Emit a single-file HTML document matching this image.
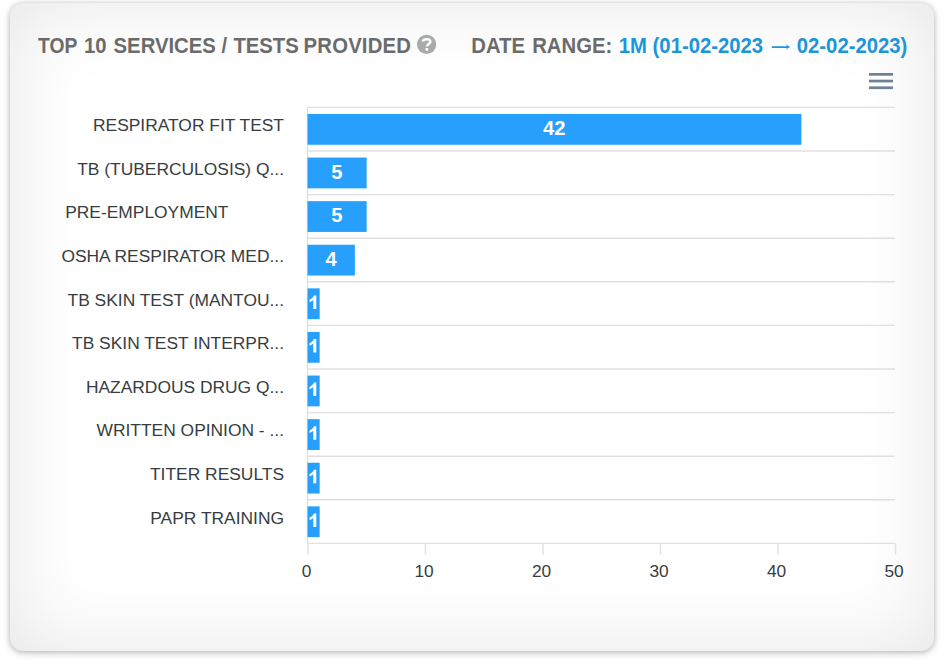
<!DOCTYPE html>
<html>
<head>
<meta charset="utf-8">
<title>Top 10 Services</title>
<style>
html,body{margin:0;padding:0;}
body{width:945px;height:659px;background:#fefefe;font-family:"Liberation Sans",sans-serif;overflow:hidden;position:relative;}
.card{position:absolute;left:10px;top:3px;width:923.5px;height:648px;border-radius:13px;
 background:#ffffff;
 box-shadow:inset 0 0 80px rgba(0,0,0,0.10), 0 2px 7px rgba(0,0,0,0.22), 0 0 4px rgba(0,0,0,0.13);}
.t{position:absolute;white-space:nowrap;font-weight:bold;font-size:20.3px;line-height:24px;color:#6b6b6b;transform:scaleY(1.075);transform-origin:0 19.2px;}
#t1{left:38.3px;top:33.5px;}
#t1x{left:83.9px;top:33.5px;}
#t1y{left:113.6px;top:33.5px;}
#t1b{left:233.4px;top:33.5px;}
#t1c{left:303.6px;top:33.5px;letter-spacing:0.2px;}
#t2{left:471.3px;top:33.5px;}
#t2b{left:532.2px;top:33.5px;}
#t3{left:618.8px;top:33.5px;color:#1b96d9;}
#t4{left:796.8px;top:33.5px;color:#1b96d9;}
svg{position:absolute;left:0;top:0;}
.yl{font-size:17.4px;fill:#373d3f;text-anchor:end;}
.xl{font-size:17.3px;fill:#373d3f;text-anchor:middle;}
.dl{font-size:20.2px;font-weight:bold;fill:#ffffff;text-anchor:middle;}
</style>
</head>
<body>
<div class="card"></div>
<div class="t" id="t1" style="transform:scale(0.95,1.075)">TOP</div>
<div class="t" id="t1x">10</div>
<div class="t" id="t1y">SERVICES /</div>
<div class="t" id="t1b">TESTS</div>
<div class="t" id="t1c">PROVIDED</div>
<div class="t" id="t2">DATE</div>
<div class="t" id="t2b">RANGE:</div>
<div class="t" id="t3">1M (01-02-2023</div>
<div class="t" id="t4">02-02-2023)</div>
<svg width="945" height="659" viewBox="0 0 945 659" font-family="Liberation Sans, sans-serif">
 <circle cx="426.6" cy="44.4" r="9.6" fill="#a9aaab"/>
 <path d="M423.0 41.6 C423.0 38.6 430.4 38.2 430.4 41.8 C430.4 44.0 426.9 44.2 426.9 46.6" fill="none" stroke="#fff" stroke-width="2.4"/>
 <rect x="425.5" y="48.0" width="2.7" height="2.7" fill="#fff"/>
 <path transform="translate(0.6 0)" d="M771.2 46.2 H786.2 C786 45.4 785.6 44.8 785.2 44.2 C786.4 45.3 788 46.4 790 47.1 C788 47.8 786.4 48.9 785.2 50 C785.6 49.4 786 48.8 786.2 48 H771.2 Z" fill="#1b96d9"/>
 <g fill="#6e8192">
  <rect x="869" y="73" width="24" height="2.7"/>
  <rect x="869" y="79.7" width="24" height="2.7"/>
  <rect x="869" y="86.4" width="24" height="2.7"/>
 </g>
 <g stroke="#e0e0e0" stroke-width="1.4" fill="none">
  <line x1="307.5" y1="107.40" x2="895.0" y2="107.40"/>
  <line x1="307.5" y1="151.00" x2="895.0" y2="151.00"/>
  <line x1="307.5" y1="194.60" x2="895.0" y2="194.60"/>
  <line x1="307.5" y1="238.20" x2="895.0" y2="238.20"/>
  <line x1="307.5" y1="281.80" x2="895.0" y2="281.80"/>
  <line x1="307.5" y1="325.40" x2="895.0" y2="325.40"/>
  <line x1="307.5" y1="369.00" x2="895.0" y2="369.00"/>
  <line x1="307.5" y1="412.60" x2="895.0" y2="412.60"/>
  <line x1="307.5" y1="456.20" x2="895.0" y2="456.20"/>
  <line x1="307.5" y1="499.80" x2="895.0" y2="499.80"/>
  <line x1="307.5" y1="543.40" x2="895.0" y2="543.40"/>
  <line x1="307.5" y1="107.4" x2="307.5" y2="543.40"/>
  <line x1="308.00" y1="543.40" x2="308.00" y2="554.40"/>
  <line x1="425.50" y1="543.40" x2="425.50" y2="554.40"/>
  <line x1="543.00" y1="543.40" x2="543.00" y2="554.40"/>
  <line x1="660.50" y1="543.40" x2="660.50" y2="554.40"/>
  <line x1="778.00" y1="543.40" x2="778.00" y2="554.40"/>
  <line x1="895.50" y1="543.40" x2="895.50" y2="554.40"/>
 </g>
 <g>
  <rect x="307.5" y="113.95" width="493.90" height="30.8" fill="#26a0fc"/>
  <text class="dl" x="554.25" y="134.90">42</text>
  <text class="yl" x="284" y="131.10">RESPIRATOR FIT TEST</text>
  <rect x="307.5" y="157.55" width="59.15" height="30.8" fill="#26a0fc"/>
  <text class="dl" x="336.88" y="178.50">5</text>
  <text class="yl" x="284" y="174.70">TB (TUBERCULOSIS) Q...</text>
  <rect x="307.5" y="201.15" width="59.15" height="30.8" fill="#26a0fc"/>
  <text class="dl" x="336.88" y="222.10">5</text>
  <text class="yl" x="228.5" y="218.30">PRE-EMPLOYMENT</text>
  <rect x="307.5" y="244.75" width="47.40" height="30.8" fill="#26a0fc"/>
  <text class="dl" x="331.00" y="265.70">4</text>
  <text class="yl" x="284" y="261.90">OSHA RESPIRATOR MED...</text>
  <rect x="307.5" y="288.35" width="12.15" height="30.8" fill="#26a0fc"/>
  <path transform="translate(0 -218.00)" fill="#fff" d="M316.3 526.9 H313.3 V517.9 C312.3 518.9 311.0 519.7 309.5 520.2 V517.7 C311.6 516.9 313.2 515.3 313.9 513.4 H316.3 Z"/>
  <text class="yl" x="284" y="305.50">TB SKIN TEST (MANTOU...</text>
  <rect x="307.5" y="331.95" width="12.15" height="30.8" fill="#26a0fc"/>
  <path transform="translate(0 -174.40)" fill="#fff" d="M316.3 526.9 H313.3 V517.9 C312.3 518.9 311.0 519.7 309.5 520.2 V517.7 C311.6 516.9 313.2 515.3 313.9 513.4 H316.3 Z"/>
  <text class="yl" x="284" y="349.10">TB SKIN TEST INTERPR...</text>
  <rect x="307.5" y="375.55" width="12.15" height="30.8" fill="#26a0fc"/>
  <path transform="translate(0 -130.80)" fill="#fff" d="M316.3 526.9 H313.3 V517.9 C312.3 518.9 311.0 519.7 309.5 520.2 V517.7 C311.6 516.9 313.2 515.3 313.9 513.4 H316.3 Z"/>
  <text class="yl" x="284" y="392.70">HAZARDOUS DRUG Q...</text>
  <rect x="307.5" y="419.15" width="12.15" height="30.8" fill="#26a0fc"/>
  <path transform="translate(0 -87.20)" fill="#fff" d="M316.3 526.9 H313.3 V517.9 C312.3 518.9 311.0 519.7 309.5 520.2 V517.7 C311.6 516.9 313.2 515.3 313.9 513.4 H316.3 Z"/>
  <text class="yl" x="284" y="436.30">WRITTEN OPINION - ...</text>
  <rect x="307.5" y="462.75" width="12.15" height="30.8" fill="#26a0fc"/>
  <path transform="translate(0 -43.60)" fill="#fff" d="M316.3 526.9 H313.3 V517.9 C312.3 518.9 311.0 519.7 309.5 520.2 V517.7 C311.6 516.9 313.2 515.3 313.9 513.4 H316.3 Z"/>
  <text class="yl" x="284" y="479.90">TITER RESULTS</text>
  <rect x="307.5" y="506.35" width="12.15" height="30.8" fill="#26a0fc"/>
  <path transform="translate(0 0.00)" fill="#fff" d="M316.3 526.9 H313.3 V517.9 C312.3 518.9 311.0 519.7 309.5 520.2 V517.7 C311.6 516.9 313.2 515.3 313.9 513.4 H316.3 Z"/>
  <text class="yl" x="284" y="523.50">PAPR TRAINING</text>
  <text class="xl" x="306.50" y="577">0</text>
  <text class="xl" x="424.00" y="577">10</text>
  <text class="xl" x="541.50" y="577">20</text>
  <text class="xl" x="659.00" y="577">30</text>
  <text class="xl" x="776.50" y="577">40</text>
  <text class="xl" x="894.00" y="577">50</text>
 </g>
</svg>
</body>
</html>
